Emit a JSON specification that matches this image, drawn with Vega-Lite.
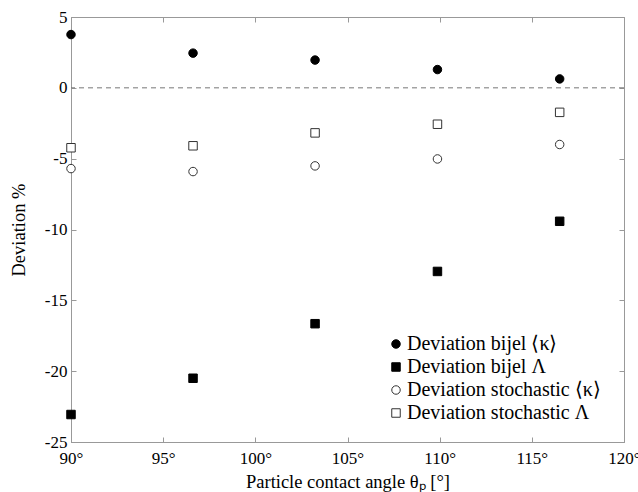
{
  "$schema": "https://vega.github.io/schema/vega-lite/v6.json",
  "width": 553,
  "height": 425,
  "autosize": "none",
  "padding": {"left": 71, "top": 17, "right": 14, "bottom": 50},
  "background": "white",
  "config": {
    "view": {"stroke": "#999999", "strokeWidth": 1},
    "font": "Liberation Serif",
    "legend": {"symbolStrokeColor": "black", "symbolStrokeWidth": 1, "labelFontSize": 20, "labelLimit": 0},
    "axis": {
      "domainColor": "#999999",
      "tickColor": "#999999",
      "labelColor": "black",
      "titleColor": "black",
      "labelFont": "Liberation Serif",
      "titleFont": "Liberation Serif",
      "labelFontSize": 17,
      "titleFontSize": 18.5,
      "titleFontWeight": "normal",
      "grid": false,
      "tickSize": -5,
      "labelOverlap": false,
      "labelBound": false,
      "labelFlush": false
    }
  },
  "data": {
    "values": [
      {"angle": 90, "dev": 3.76, "series": "Deviation bijel ⟨κ⟩"},
      {"angle": 96.62, "dev": 2.45, "series": "Deviation bijel ⟨κ⟩"},
      {"angle": 103.24, "dev": 1.96, "series": "Deviation bijel ⟨κ⟩"},
      {"angle": 109.88, "dev": 1.29, "series": "Deviation bijel ⟨κ⟩"},
      {"angle": 116.51, "dev": 0.63, "series": "Deviation bijel ⟨κ⟩"},
      {"angle": 90, "dev": -23.06, "series": "Deviation bijel Λ"},
      {"angle": 96.62, "dev": -20.5, "series": "Deviation bijel Λ"},
      {"angle": 103.24, "dev": -16.65, "series": "Deviation bijel Λ"},
      {"angle": 109.88, "dev": -12.96, "series": "Deviation bijel Λ"},
      {"angle": 116.51, "dev": -9.42, "series": "Deviation bijel Λ"},
      {"angle": 90, "dev": -5.7, "series": "Deviation stochastic ⟨κ⟩"},
      {"angle": 96.62, "dev": -5.91, "series": "Deviation stochastic ⟨κ⟩"},
      {"angle": 103.24, "dev": -5.51, "series": "Deviation stochastic ⟨κ⟩"},
      {"angle": 109.88, "dev": -5.02, "series": "Deviation stochastic ⟨κ⟩"},
      {"angle": 116.51, "dev": -4.0, "series": "Deviation stochastic ⟨κ⟩"},
      {"angle": 90, "dev": -4.23, "series": "Deviation stochastic Λ"},
      {"angle": 96.62, "dev": -4.09, "series": "Deviation stochastic Λ"},
      {"angle": 103.24, "dev": -3.18, "series": "Deviation stochastic Λ"},
      {"angle": 109.88, "dev": -2.57, "series": "Deviation stochastic Λ"},
      {"angle": 116.51, "dev": -1.73, "series": "Deviation stochastic Λ"}
    ]
  },
  "resolve": {"axis": {"x": "independent", "y": "independent"}},
  "layer": [
    {
      "data": {"values": [{"zero": 0}]},
      "mark": {"type": "rule", "stroke": "#777777", "strokeWidth": 1, "strokeDash": [5, 4]},
      "encoding": {
        "y": {"field": "zero", "type": "quantitative", "scale": {"domain": [-25, 5], "nice": false, "zero": false},
          "axis": {"orient": "right", "values": [-25, -20, -15, -10, -5, 0, 5], "labels": false, "title": null, "domain": false}}
      }
    },
    {
      "mark": {"type": "point", "strokeWidth": 1, "opacity": 1, "size": 72},
      "encoding": {
        "x": {"field": "angle", "type": "quantitative",
          "scale": {"domain": [90, 120], "nice": false, "zero": false},
          "axis": {"orient": "bottom", "values": [90, 95, 100, 105, 110, 115, 120], "labelExpr": "datum.value + '°'",
            "title": "Particle contact angle θₚ [°]", "labelPadding": 13, "titlePadding": 6}},
        "y": {"field": "dev", "type": "quantitative",
          "scale": {"domain": [-25, 5], "nice": false, "zero": false},
          "axis": {"orient": "left", "values": [-25, -20, -15, -10, -5, 0, 5], "labelExpr": "toString(datum.value)",
            "title": "Deviation %", "labelPadding": 9, "titlePadding": 16}},
        "shape": {"field": "series", "type": "nominal",
          "scale": {"domain": ["Deviation bijel ⟨κ⟩", "Deviation bijel Λ", "Deviation stochastic ⟨κ⟩", "Deviation stochastic Λ"],
            "range": ["circle", "square", "circle", "square"]},
          "legend": {"title": null, "orient": "none", "legendX": 315, "legendY": 317,
            "labelFont": "Liberation Serif", "labelColor": "black",
            "symbolSize": 72, "rowPadding": 3, "labelOffset": 1, "padding": 0}},
        "fill": {"field": "series", "type": "nominal",
          "scale": {"domain": ["Deviation bijel ⟨κ⟩", "Deviation bijel Λ", "Deviation stochastic ⟨κ⟩", "Deviation stochastic Λ"],
            "range": ["black", "black", "white", "white"]},
          "legend": {"title": null, "orient": "none", "legendX": 315, "legendY": 317,
            "labelFont": "Liberation Serif", "labelColor": "black",
            "symbolSize": 72, "rowPadding": 3, "labelOffset": 1, "padding": 0}},
        "stroke": {"field": "series", "type": "nominal",
          "scale": {"domain": ["Deviation bijel ⟨κ⟩", "Deviation bijel Λ", "Deviation stochastic ⟨κ⟩", "Deviation stochastic Λ"],
            "range": ["black", "black", "#333333", "#333333"]},
          "legend": {"title": null, "orient": "none", "legendX": 315, "legendY": 317,
            "labelFont": "Liberation Serif", "labelColor": "black",
            "symbolSize": 72, "rowPadding": 3, "labelOffset": 1, "padding": 0}}
      }
    },
    {
      "data": {"values": [{"a": 90}]},
      "mark": {"type": "rule", "opacity": 0},
      "encoding": {
        "x": {"field": "a", "type": "quantitative", "scale": {"domain": [90, 120], "nice": false, "zero": false},
          "axis": {"orient": "top", "values": [90, 95, 100, 105, 110, 115, 120], "labels": false, "title": null, "domain": false}}
      }
    }
  ]
}
